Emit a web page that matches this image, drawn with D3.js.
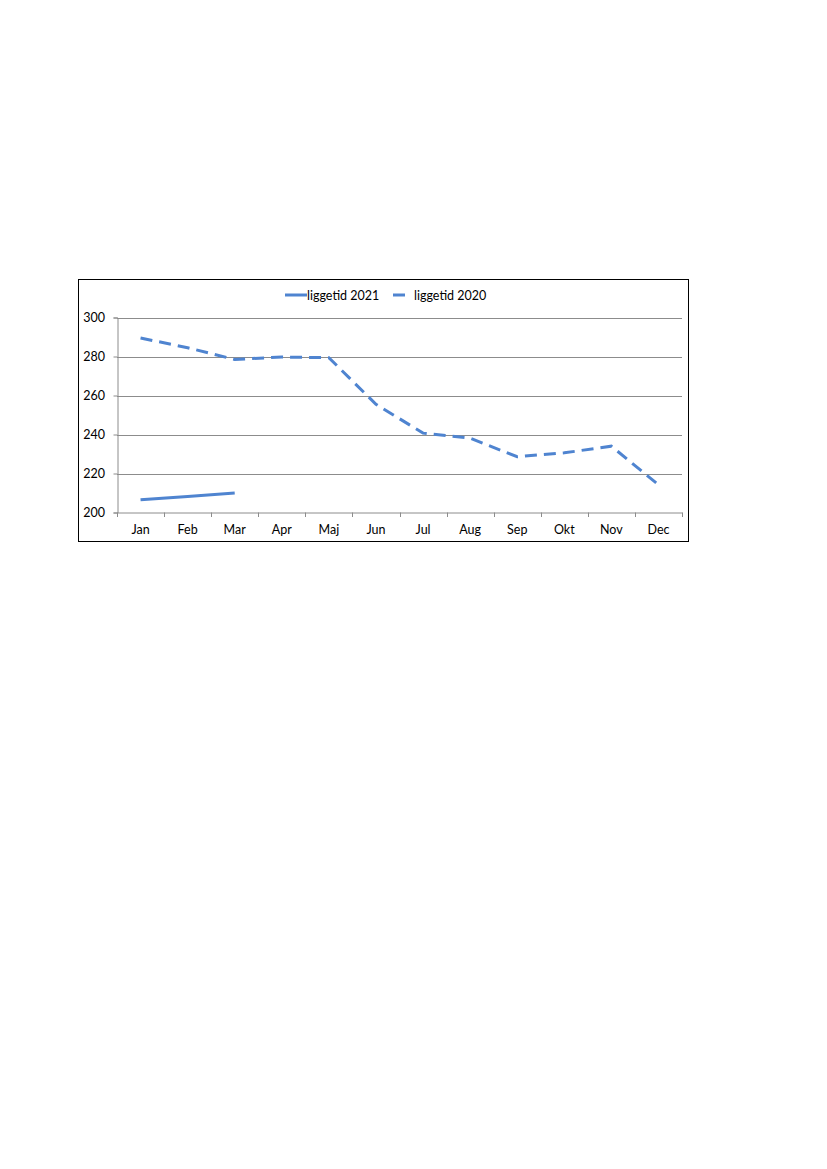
<!DOCTYPE html>
<html><head><meta charset="utf-8">
<script src="https://cdn.jsdelivr.net/npm/d3@7"></script>
<style>body{margin:0;background:#fff;} svg{display:block;}</style>
</head><body>
<svg id="c" width="827" height="1169"></svg>
<script>
const months = ["Jan","Feb","Mar","Apr","Maj","Jun","Jul","Aug","Sep","Okt","Nov","Dec"];
const values2021 = [206.5, 208.2, 210];
const values2020 = [289.5, 284.5, 278.5, 279.7, 279.4, 255.5, 240.7, 238.1, 228.6, 230.6, 234.0, 214.2];
const yTicks = [200, 220, 240, 260, 280, 300];
const seriesNames = ["liggetid 2021", "liggetid 2020"];

const color = "#4f84d0";
const font = "Lato, 'Liberation Sans', Arial, sans-serif";
const fs = 12.5;
const svg = d3.select("#c");

// outer frame
svg.append("rect").attr("x",78.5).attr("y",279.5).attr("width",610).attr("height",262)
  .attr("fill","#fff").attr("stroke","#000").attr("stroke-width",1);

const x = d3.scaleBand().domain(months).range([117, 682]);
const y = d3.scaleLinear().domain([200, 300]).range([512.5, 317.5]);

// gridlines
svg.append("g").selectAll("line").data(yTicks.filter(d=>d>200)).join("line")
  .attr("x1",117).attr("x2",682).attr("y1",d=>Math.round(y(d))+0.5).attr("y2",d=>Math.round(y(d))+0.5)
  .attr("stroke","#8c8c8c").attr("stroke-width",1);

// y axis
const ya = svg.append("g").attr("transform","translate(117.5,0)")
  .call(d3.axisLeft(y).tickValues(yTicks).tickSize(4).tickPadding(8.5).tickFormat(d3.format("d")));
ya.selectAll("path,line").attr("stroke","#8c8c8c");
ya.selectAll("text").attr("font-family",font).attr("font-size",fs).attr("fill","#000");

// x axis
const xa = svg.append("g").attr("transform","translate(0,512.5)")
  .call(d3.axisBottom(x).tickSize(0).tickPadding(12.5));
xa.selectAll("path").attr("stroke","#8c8c8c");
xa.selectAll("text").attr("font-family",font).attr("font-size",fs).attr("fill","#000");
// boundary ticks
svg.append("g").selectAll("line").data(months.concat(["_end"])).join("line")
  .attr("x1",(d,i)=>Math.round(i<12 ? x(d) : x.range()[1])+0.5)
  .attr("x2",(d,i)=>Math.round(i<12 ? x(d) : x.range()[1])+0.5)
  .attr("y1",512.5).attr("y2",517).attr("stroke","#8c8c8c");

const line = d3.line().x((d,i)=>x(months[i])+x.bandwidth()/2).y(d=>y(d));

svg.append("path").datum(values2020).attr("d",line).attr("fill","none")
  .attr("stroke",color).attr("stroke-width",3).attr("stroke-dasharray","12,7");
svg.append("path").datum(values2021).attr("d",line).attr("fill","none")
  .attr("stroke",color).attr("stroke-width",3);

// legend
const lg = svg.append("g");
lg.append("line").attr("x1",285).attr("x2",307).attr("y1",295).attr("y2",295)
  .attr("stroke",color).attr("stroke-width",3);
lg.append("text").attr("x",307).attr("y",299.5).text(seriesNames[0])
  .attr("font-family",font).attr("font-size",fs).attr("fill","#000");
lg.append("line").attr("x1",393).attr("x2",405).attr("y1",295).attr("y2",295)
  .attr("stroke",color).attr("stroke-width",3);
lg.append("text").attr("x",414).attr("y",299.5).text(seriesNames[1])
  .attr("font-family",font).attr("font-size",fs).attr("fill","#000");
</script>
</body></html>
